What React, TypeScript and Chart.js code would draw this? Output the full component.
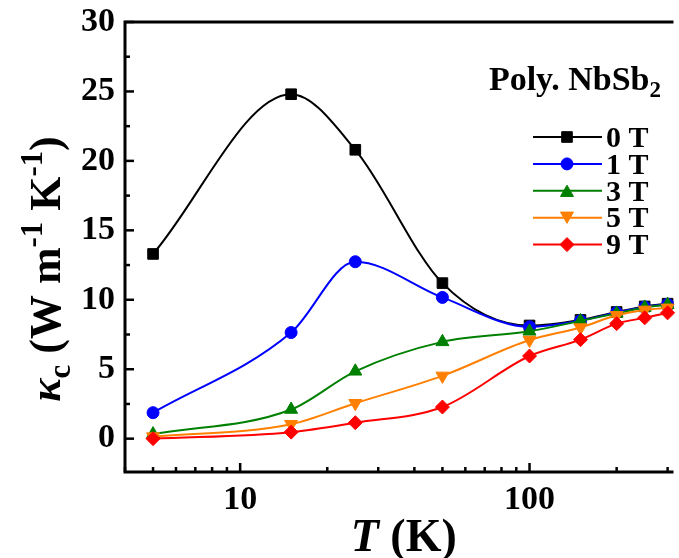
import React, { useEffect, useRef } from 'react';
import { Chart, registerables } from 'chart.js';

Chart.register(...registerables);

// ---- data ----
const TEMPERATURES = [5, 15, 25, 50, 100, 150, 200, 250, 300];
const KAPPA_0T = [13.3, 24.8, 20.8, 11.2, 8.15, 8.55, 9.12, 9.52, 9.72];
const KAPPA_1T = [1.87, 7.64, 12.74, 10.17, 8.05, 8.5, 9.08, 9.48, 9.68];
const KAPPA_3T = [0.33, 2.1, 4.85, 6.97, 7.73, 8.48, 9.02, 9.45, 9.65];
const KAPPA_5T = [0.15, 1.04, 2.55, 4.52, 7.1, 8.0, 8.88, 9.27, 9.42];
const KAPPA_9T = [0.0, 0.47, 1.15, 2.28, 5.95, 7.13, 8.28, 8.7, 9.06];
const SERIES_LABELS = ['0 T', '1 T', '3 T', '5 T', '9 T'];
const X_TICKS = [10, 100];
const Y_TICKS = [0, 5, 10, 15, 20, 25, 30];
const LEGEND_TITLE = 'Poly. NbSb';
const LEGEND_TITLE_SUB = '2';

const SERIES = [KAPPA_0T, KAPPA_1T, KAPPA_3T, KAPPA_5T, KAPPA_9T];
const COLORS = ['#000000', '#0000ff', '#008000', '#ff8000', '#ff0000'];
const STYLES: { style: string; radius: number; rotation: number }[] = [
  { style: 'rect', radius: 7.5, rotation: 0 },
  { style: 'circle', radius: 6, rotation: 0 },
  { style: 'triangle', radius: 7.5, rotation: 0 },
  { style: 'triangle', radius: 7.5, rotation: 180 },
  { style: 'rectRot', radius: 7, rotation: 0 },
];

const SERIF = '"Liberation Serif", "Times New Roman", serif';

type Seg = { t: string; size: number; italic?: boolean; dy?: number };

function segFont(s: Seg) {
  return `${s.italic ? 'italic ' : ''}bold ${s.size}px ${SERIF}`;
}

function richWidth(ctx: CanvasRenderingContext2D, segs: Seg[]) {
  let w = 0;
  for (const s of segs) {
    ctx.font = segFont(s);
    w += ctx.measureText(s.t).width;
  }
  return w;
}

function drawRich(ctx: CanvasRenderingContext2D, segs: Seg[], x0: number, y0: number) {
  let x = x0;
  ctx.textBaseline = 'alphabetic';
  ctx.textAlign = 'left';
  for (const s of segs) {
    ctx.font = segFont(s);
    ctx.fillText(s.t, x, y0 + (s.dy || 0));
    x += ctx.measureText(s.t).width;
  }
}

function drawMarker(ctx: CanvasRenderingContext2D, kind: number, x: number, y: number, color: string) {
  const st = STYLES[kind];
  const r = st.radius;
  ctx.save();
  ctx.fillStyle = color;
  ctx.strokeStyle = color;
  ctx.lineWidth = 1;
  ctx.beginPath();
  if (st.style === 'rect') {
    const s = r * Math.SQRT1_2;
    ctx.rect(x - s, y - s, 2 * s, 2 * s);
  } else if (st.style === 'circle') {
    ctx.arc(x, y, r, 0, Math.PI * 2);
  } else if (st.style === 'triangle') {
    const dir = st.rotation === 180 ? -1 : 1;
    for (let k = 0; k < 3; k++) {
      const a = -Math.PI / 2 + (k * 2 * Math.PI) / 3;
      const px = x + r * Math.cos(a);
      const py = y + dir * r * Math.sin(a) + dir * 0.25 * r;
      if (k === 0) ctx.moveTo(px, py);
      else ctx.lineTo(px, py);
    }
    ctx.closePath();
  } else {
    ctx.moveTo(x, y - r);
    ctx.lineTo(x + r, y);
    ctx.lineTo(x, y + r);
    ctx.lineTo(x - r, y);
    ctx.closePath();
  }
  ctx.fill();
  ctx.stroke();
  ctx.restore();
}

const decorPlugin = {
  id: 'decor',
  afterDatasetsDraw(chart: any) {
    const ctx: CanvasRenderingContext2D = chart.ctx;
    const ca = chart.chartArea;
    const xs = chart.scales.x;
    const ys = chart.scales.y;
    ctx.save();
    // frame
    ctx.strokeStyle = '#000';
    ctx.lineWidth = 3;
    ctx.beginPath();
    ctx.moveTo(ca.right + 3, ca.top);
    ctx.lineTo(ca.left, ca.top);
    ctx.lineTo(ca.left, ca.bottom);
    ctx.lineTo(ca.right + 3, ca.bottom);
    ctx.stroke();

    // y ticks (inward)
    ctx.lineWidth = 2.5;
    for (let v = Math.ceil(ys.min / 2.5) * 2.5; v <= ys.max + 1e-9; v += 2.5) {
      const major = Math.abs(v / 5 - Math.round(v / 5)) < 1e-6;
      const py = ys.getPixelForValue(v);
      ctx.beginPath();
      ctx.moveTo(ca.left, py);
      ctx.lineTo(ca.left + (major ? 9 : 5), py);
      ctx.stroke();
    }
    // x ticks (inward), log
    for (let e = Math.floor(Math.log10(xs.min)); e <= Math.ceil(Math.log10(xs.max)); e++) {
      for (let m = 1; m <= 9; m++) {
        const v = m * Math.pow(10, e);
        if (v < xs.min || v > xs.max) continue;
        const px = xs.getPixelForValue(v);
        ctx.beginPath();
        ctx.moveTo(px, ca.bottom);
        ctx.lineTo(px, ca.bottom - (m === 1 ? 9 : 5));
        ctx.stroke();
      }
    }

    ctx.fillStyle = '#000';
    // y title (rotated)
    const F = 44;
    const ySegs: Seg[] = [
      { t: 'κ', size: F, italic: true },
      { t: 'c', size: F * 0.7, dy: F * 0.22 },
      { t: ' (W m', size: F },
      { t: '-1', size: F * 0.7, dy: -F * 0.4 },
      { t: ' K', size: F },
      { t: '-1', size: F * 0.7, dy: -F * 0.4 },
      { t: ')', size: F },
    ];
    ctx.save();
    ctx.translate(60, (ca.top + ca.bottom) / 2 + 22);
    ctx.rotate(-Math.PI / 2);
    const yw = richWidth(ctx, ySegs);
    drawRich(ctx, ySegs, -yw / 2, 0);
    ctx.restore();

    // x title
    const xSegs: Seg[] = [
      { t: 'T', size: 46, italic: true },
      { t: ' (K)', size: 46 },
    ];
    const xw = richWidth(ctx, xSegs);
    drawRich(ctx, xSegs, (ca.left + ca.right) / 2 + 6 - xw / 2, 551);

    // legend title
    const tSegs: Seg[] = [
      { t: LEGEND_TITLE, size: 34 },
      { t: LEGEND_TITLE_SUB, size: 23, dy: 7 },
    ];
    const tw = richWidth(ctx, tSegs);
    drawRich(ctx, tSegs, 661 - tw, 90);

    // legend entries
    SERIES_LABELS.forEach((lab, i) => {
      const ry = 137 + i * 26.9;
      ctx.strokeStyle = COLORS[i];
      ctx.lineWidth = 2;
      ctx.beginPath();
      ctx.moveTo(533, ry);
      ctx.lineTo(602, ry);
      ctx.stroke();
      drawMarker(ctx, i, 567, ry, COLORS[i]);
      ctx.fillStyle = '#000';
      ctx.font = `bold 30px ${SERIF}`;
      ctx.textBaseline = 'middle';
      ctx.textAlign = 'left';
      ctx.fillText(lab, 606, ry + 2);
    });
    ctx.restore();
  },
};

export default function App() {
  const ref = useRef<HTMLCanvasElement | null>(null);
  useEffect(() => {
    if (!ref.current) return;
    const datasets = SERIES.map((arr, i) => ({
      label: SERIES_LABELS[i],
      data: TEMPERATURES.map((t, j) => ({ x: t, y: arr[j] })),
      borderColor: COLORS[i],
      backgroundColor: COLORS[i],
      borderWidth: 2,
      pointStyle: STYLES[i].style,
      pointRadius: STYLES[i].radius,
      pointRotation: STYLES[i].rotation,
      pointBorderWidth: 1,
      pointBorderColor: COLORS[i],
      pointBackgroundColor: COLORS[i],
      cubicInterpolationMode: 'monotone',
      clip: false,
      order: SERIES.length - 1 - i,
    }));
    const chart = new Chart(ref.current, {
      type: 'line',
      data: { datasets } as any,
      options: {
        animation: false,
        responsive: false,
        devicePixelRatio: 1,
        layout: { padding: 0 },
        plugins: { legend: { display: false }, tooltip: { enabled: false } },
        scales: {
          x: {
            type: 'logarithmic',
            min: 4,
            max: 307,
            grid: { display: false, drawTicks: false },
            border: { display: false },
            afterBuildTicks: (s: any) => {
              s.ticks = X_TICKS.map((v) => ({ value: v }));
            },
            afterFit: (s: any) => {
              s.height = 86;
              s.paddingLeft = 0;
              s.paddingRight = 0;
            },
            ticks: {
              autoSkip: false,
              maxRotation: 0,
              padding: 8,
              color: '#000',
              font: { family: SERIF, size: 34, weight: 'bold' },
              callback: (v: any) => String(v),
            },
          },
          y: {
            type: 'linear',
            min: -2.4,
            max: 30,
            grid: { display: false, drawTicks: false },
            border: { display: false },
            afterBuildTicks: (s: any) => {
              s.ticks = Y_TICKS.map((v) => ({ value: v }));
            },
            afterFit: (s: any) => {
              s.width = 125;
              s.paddingTop = 22;
              s.paddingBottom = 0;
            },
            ticks: {
              padding: 10,
              color: '#000',
              font: { family: SERIF, size: 34, weight: 'bold' },
              callback: (v: any) => String(v),
            },
          },
        },
      } as any,
      plugins: [decorPlugin],
    });
    return () => chart.destroy();
  }, []);
  return (
    <div style={{ position: 'absolute', left: 0, top: 0, width: 679, height: 558, background: '#fff' }}>
      <canvas ref={ref} width={679} height={558} />
    </div>
  );
}
